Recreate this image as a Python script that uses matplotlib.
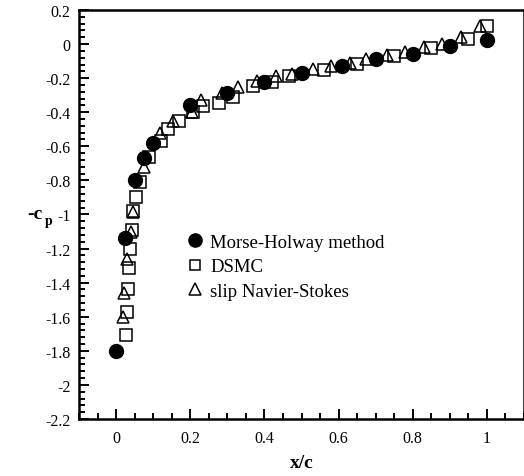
import matplotlib
matplotlib.use('Agg')
from matplotlib import pyplot as plt
from matplotlib.ticker import MultipleLocator
import numpy as np

# Morse-Holway method
mh_x = [0.0, 0.025, 0.05, 0.075, 0.1, 0.2, 0.3, 0.4, 0.5, 0.61, 0.7, 0.8, 0.9, 1.0]
mh_cp = [-1.80, -1.14, -0.80, -0.67, -0.58, -0.355, -0.29, -0.22, -0.17, -0.13, -0.09, -0.06, -0.01, 0.025]

# DSMC
dsmc_x = [0.027, 0.030, 0.031, 0.035, 0.038, 0.043, 0.046, 0.054, 0.065, 0.09, 0.12,
          0.14, 0.17, 0.208, 0.235, 0.277, 0.315, 0.37, 0.42, 0.465, 0.56, 0.65,
          0.75, 0.85, 0.95, 1.0]
dsmc_cp = [-1.71, -1.57, -1.44, -1.315, -1.20, -1.09, -0.98, -0.90, -0.81, -0.66, -0.57,
           -0.50, -0.45, -0.40, -0.365, -0.345, -0.31, -0.245, -0.22, -0.19, -0.155, -0.115,
           -0.07, -0.025, 0.03, 0.105]

# slip Navier-Stokes
ns_x = [0.019, 0.022, 0.030, 0.040, 0.046, 0.075, 0.118, 0.153, 0.205, 0.23, 0.285,
        0.33, 0.38, 0.43, 0.475, 0.53, 0.58, 0.63, 0.675, 0.73, 0.78, 0.83, 0.88,
        0.93, 0.98]
ns_cp = [-1.60, -1.46, -1.26, -1.10, -0.985, -0.72, -0.52, -0.45, -0.40, -0.33, -0.29,
         -0.25, -0.215, -0.19, -0.175, -0.145, -0.13, -0.11, -0.09, -0.065, -0.045, -0.02,
         0.0, 0.04, 0.105]

plt.rcParams['font.family'] = ['Liberation Serif', 'DejaVu Serif']


def main():
    fig = plt.figure(figsize=(5.24, 4.77), dpi=100)
    ax = fig.add_axes([0.1508, 0.1195, 0.8492, 0.8575])

    ax.plot(ns_x, ns_cp, linestyle='none', marker='^', markersize=9,
            markerfacecolor='none', markeredgecolor='black', markeredgewidth=1.1,
            label='slip Navier-Stokes', zorder=3)
    ax.plot(dsmc_x, dsmc_cp, linestyle='none', marker='s', markersize=8,
            markerfacecolor='none', markeredgecolor='black', markeredgewidth=1.1,
            label='DSMC', zorder=2)
    ax.plot(mh_x, mh_cp, linestyle='none', marker='o', markersize=10,
            markerfacecolor='black', markeredgecolor='black',
            label='Morse-Holway method', zorder=4)

    ax.set_xlim(-0.1, 1.1)
    ax.set_ylim(-2.2, 0.2)
    ax.xaxis.set_minor_locator(MultipleLocator(0.05))
    ax.yaxis.set_minor_locator(MultipleLocator(0.04))

    def fmt(v):
        s = ('%.1f' % v).rstrip('0').rstrip('.')
        if s in ('-0', ''):
            s = '0'
        return s

    xt = np.arange(0, 1.01, 0.2)
    ax.set_xticks(xt)
    ax.set_xticklabels([fmt(v) for v in xt])
    yt = np.arange(-2.2, 0.21, 0.2)
    ax.set_yticks(yt)
    ax.set_yticklabels([fmt(v) for v in yt])

    ax.tick_params(which='both', direction='in', width=1.4, labelsize=11.5)
    ax.tick_params(which='major', length=7)
    ax.tick_params(which='minor', length=4)
    ax.tick_params(axis='x', which='major', pad=8)
    ax.tick_params(axis='y', which='major', pad=6)
    for sp in ax.spines.values():
        sp.set_linewidth(1.8)

    ax.set_xlabel('x/c', fontsize=14, fontweight='bold', labelpad=6)
    # y label drawn as "-c" with a subscript p, kept horizontal like the reference
    fig.text(0.052, 0.551, '-c', fontsize=14, fontweight='bold', ha='left', va='center')
    fig.text(0.086, 0.536, 'p', fontsize=10, fontweight='bold', ha='left', va='center')

    handles, labels = ax.get_legend_handles_labels()
    order = [2, 1, 0]
    ax.legend([handles[i] for i in order], [labels[i] for i in order],
              loc='upper left', bbox_to_anchor=(0.198, 0.495), frameon=False,
              fontsize=13.5, handletextpad=0.2, labelspacing=0.4,
              handlelength=1.2, markerscale=0.95)

    plt.savefig('out.png', dpi=100)


if __name__ == '__main__':
    main()
